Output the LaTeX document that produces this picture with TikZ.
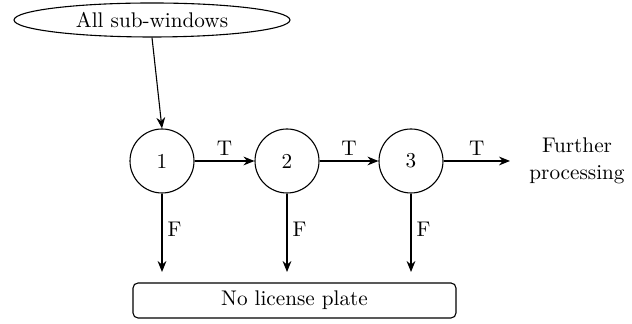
\documentclass[tikz,border=0pt]{standalone}
\usetikzlibrary{arrows.meta,shapes.geometric}
\begin{document}
\begin{tikzpicture}[x=0.5pt,y=-0.5pt,
  every node/.style={font=\fontsize{10.6}{13.5}\selectfont},
  stage/.style={draw,circle,line width=0.55pt,minimum size=32pt,inner sep=0pt},
  arr/.style={line width=0.55pt,-{Stealth[length=5.5pt,width=4.4pt]}},
  lbl/.style={inner sep=2.5pt}]
\useasboundingbox (0,0) rectangle (632,324);
\node[draw,ellipse,line width=0.55pt,minimum width=138pt,minimum height=17pt,inner sep=0pt] (all) at (152,20) {All sub-windows};
\node[stage] (c1) at (162,161) {1};
\node[stage] (c2) at (287,161) {2};
\node[stage] (c3) at (411,161) {3};
\node[align=center,inner sep=0pt] (fp) at (577,161) {Further\\processing};
\node[draw,rounded corners=2.5pt,line width=0.55pt,minimum width=161.5pt,minimum height=17.5pt,inner sep=0pt] (no) at (294.5,300.5) {No license plate};
\coordinate (e1) at (162,272);
\coordinate (e2) at (287,272);
\coordinate (e3) at (411,272);
\coordinate (fe) at (510,161);
\draw[arr] (all.south) -- (c1.north);
\draw[arr] (c1) -- node[lbl,above] {T} (c2);
\draw[arr] (c2) -- node[lbl,above] {T} (c3);
\draw[arr] (c3) -- node[lbl,above] {T} (fe);
\draw[arr] (c1.south) -- node[lbl,right,pos=0.45] {F} (e1);
\draw[arr] (c2.south) -- node[lbl,right,pos=0.45] {F} (e2);
\draw[arr] (c3.south) -- node[lbl,right,pos=0.45] {F} (e3);
\end{tikzpicture}
\end{document}
